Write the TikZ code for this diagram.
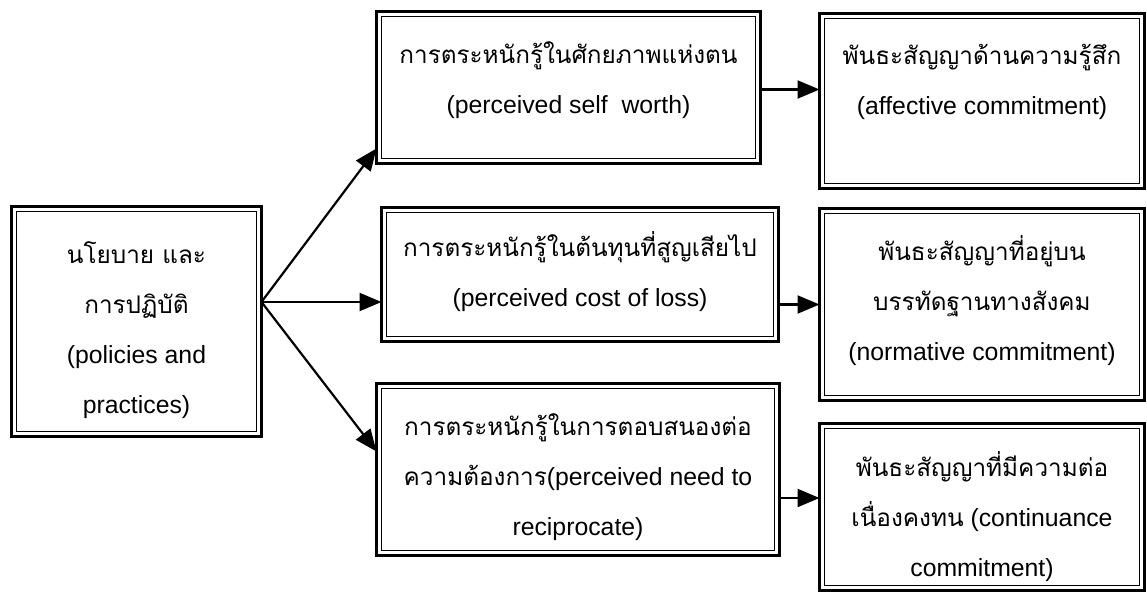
\documentclass[tikz,border=0pt]{standalone}
\usepackage{fontspec}
\setmainfont{Liberation Sans}
\newfontfamily\thai[Script=Thai,Scale=0.98]{Loma}
\usetikzlibrary{arrows.meta,calc}
\begin{document}
\begin{tikzpicture}[x=0.5pt,y=-0.5pt,
  box/.style={draw,line width=1.6pt,outer sep=0pt,inner sep=0pt},
  txt/.style={align=center,font=\fontsize{12.4}{25}\selectfont,anchor=base,inner sep=0pt},
  conn/.style={line width=1.1pt,-{Triangle[length=11pt,width=9pt]}},
  innerline/.style={line width=0.8pt}]
\useasboundingbox[fill=white] (0,0) rectangle (1147,593);
% boxes
\node[box,minimum width=125pt,minimum height=115pt] (L) at (136.5,321.5) {};
\node[box,minimum width=192pt,minimum height=76pt] (M1) at (568.5,87.5) {};
\node[box,minimum width=162.5pt,minimum height=87.5pt] (R1) at (982,101) {};
\node[box,minimum width=198.5pt,minimum height=67pt] (M2) at (580,274.5) {};
\node[box,minimum width=162.5pt,minimum height=96pt] (R2) at (982,304.5) {};
\node[box,minimum width=201.5pt,minimum height=86pt] (M3) at (578,469.5) {};
\node[box,minimum width=162.5pt,minimum height=83.5pt] (R3) at (982,507) {};
\foreach \b in {L,M1,R1,M2,R2,M3,R3}{
  \draw[innerline] ([shift={(2.5pt,-2.5pt)}]\b.north west) rectangle ([shift={(-2.5pt,2.5pt)}]\b.south east);
}
% texts (anchor base = baseline of last line)
\node[txt] (tL) at ([yshift=-103.5pt]L.north) {{\thai นโยบาย และ}\\{\thai การปฏิบัติ}\\(policies and\\practices)};
\node[txt] (tM1) at ([yshift=-51pt]M1.north) {{\thai การตระหนักรู้ในศักยภาพแห่งตน}\\(perceived self\ \ worth)};
\node[txt] (tR1) at ([yshift=-50.5pt]R1.north) {{\thai พันธะสัญญาด้านความรู้สึก}\\(affective commitment)};
\node[txt] (tM2) at ([yshift=-49.5pt]M2.north) {{\thai การตระหนักรู้ในต้นทุนที่สูญเสียไป}\\(perceived cost of loss)};
\node[txt] (tR2) at ([yshift=-76pt]R2.north) {{\thai พันธะสัญญาที่อยู่บน}\\{\thai บรรทัดฐานทางสังคม}\\(normative commitment)};
\node[txt] (tM3) at ([yshift=-76pt]M3.north) {{\thai การตระหนักรู้ในการตอบสนองต่อ}\\{\thai ความต้องการ}(perceived need to\\reciprocate)};
\node[txt] (tR3) at ([yshift=-76.5pt]R3.north) {{\thai พันธะสัญญาที่มีความต่อ}\\{\thai เนื่องคงทน} (continuance\\commitment)};
% connectors
\coordinate (hub) at ([yshift=9.75pt]L.east);
\draw[conn] (hub) -- ([yshift=7.5pt]M1.south west);
\draw[conn] (hub) -- (hub -| M2.west);
\draw[conn] (hub) -- ([yshift=-34pt]M3.north west);
\draw[conn] ([yshift=-1pt]M1.east) -- ([yshift=-1pt]M1.east -| R1.west);
\draw[conn] (M2.east |- R2.west) -- (R2.west);
\draw[conn] ([yshift=4.5pt]M3.east |- R3.west) -- ([yshift=4.5pt]R3.west);
\end{tikzpicture}
\end{document}
